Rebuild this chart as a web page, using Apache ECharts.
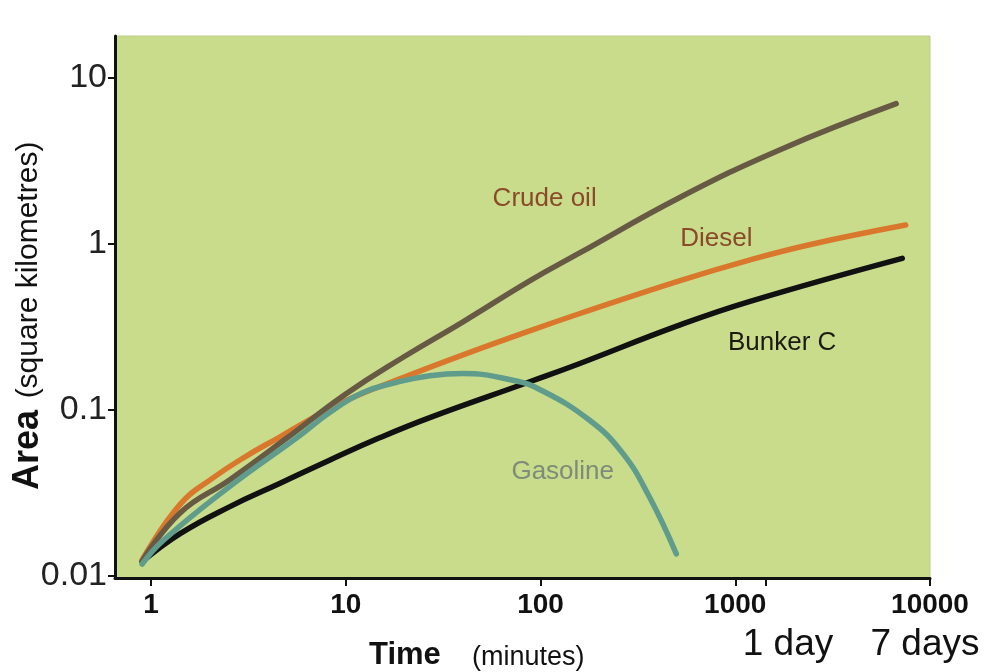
<!DOCTYPE html>
<html>
<head>
<meta charset="utf-8">
<script src="https://cdn.jsdelivr.net/npm/echarts@6/dist/echarts.min.js"></script>
<style>
  html, body { margin: 0; padding: 0; background: #fff; }
  #main { width: 985px; height: 672px; }
</style>
</head>
<body>
<div id="main"></div>
<script>
// time (minutes) / area (km2)
var crudeT = [0.9, 1.41, 2.54, 5, 10, 20, 40, 88, 158, 516, 1700, 6700];
var crudeA = [0.0123, 0.024, 0.038, 0.068, 0.125, 0.21, 0.34, 0.6, 0.88, 1.9, 3.7, 7.0];

var dieselT = [0.9, 1.41, 2.08, 3.1, 4.6, 6.8, 10, 20, 40, 88, 158, 516, 1180, 2500, 7500];
var dieselA = [0.0125, 0.027, 0.039, 0.053, 0.069, 0.09, 0.114, 0.158, 0.215, 0.3, 0.38, 0.6, 0.8, 1.0, 1.3];

var bunkerT = [0.9, 1.41, 2.54, 4.6, 8.3, 14.9, 27, 88, 158, 500, 1180, 7200];
var bunkerA = [0.0122, 0.018, 0.0262, 0.0362, 0.05, 0.068, 0.09, 0.148, 0.19, 0.32, 0.45, 0.82];

var gasT = [0.9, 1.15, 2.54, 5.6, 8.3, 12.2, 18.3, 27, 40, 72, 99, 178, 264, 362, 498];
var gasA = [0.0118, 0.0163, 0.0347, 0.068, 0.097, 0.127, 0.147, 0.161, 0.166, 0.151, 0.133, 0.087, 0.055, 0.030, 0.0136];

var xTicks = [1, 10, 100, 1000, 1440, 10000];
var xLabels = [1, 10, 100, 1000, 10000];
var yTicks = [0.01, 0.1, 1, 10];
var yTickLabels = ['0.01', '0.1', '1', '10'];

// in-plot labels: [text, t, area, colour]
var curveNames = [
  ['Crude oil', 105, 1.87, '#8a4a2a'],
  ['Diesel', 800, 1.07, '#8a4a2a'],
  ['Bunker C', 1742, 0.253, '#1a1a10'],
  ['Gasoline', 130, 0.0427, '#7f8b78']
];

function pairs(t, a) {
  return t.map(function (v, i) { return [v, a[i]]; });
}

var chart = echarts.init(document.getElementById('main'));
var FONT = '"Liberation Sans", Arial, sans-serif';

function line(name, t, a, color) {
  return {
    name: name,
    type: 'line',
    data: pairs(t, a),
    smooth: 0.45,
    symbol: 'none',
    lineStyle: { color: color, width: 5.5, cap: 'round' },
    z: 3
  };
}

var option = {
  animation: false,
  grid: {
    left: 115, right: 55, top: 36, bottom: 94,
    show: true,
    backgroundColor: '#c9dc8b',
    borderColor: '#bccd88',
    borderWidth: 1
  },
  xAxis: {
    type: 'log',
    logBase: 10,
    min: 0.653,
    max: 10000,
    axisLine: { show: true, onZero: false, lineStyle: { color: '#111', width: 3 } },
    axisTick: { show: true, length: 8, customValues: xTicks, lineStyle: { color: '#111', width: 2 } },
    axisLabel: {
      customValues: xLabels,
      margin: 13,
      color: '#111',
      fontFamily: FONT,
      fontWeight: 'bold',
      fontSize: 28,
      formatter: function (v) { return String(v); }
    },
    splitLine: { show: false },
    minorTick: { show: false }
  },
  yAxis: {
    type: 'log',
    logBase: 10,
    min: 0.00973,
    max: 17.9,
    axisLine: { show: true, onZero: false, lineStyle: { color: '#111', width: 3 } },
    axisTick: { show: true, length: 7, customValues: yTicks, lineStyle: { color: '#111', width: 2 } },
    axisLabel: {
      customValues: yTicks,
      margin: 8,
      color: '#222',
      fontFamily: FONT,
      fontSize: 34,
      formatter: function (v) {
        var i = yTicks.indexOf(v);
        return i >= 0 ? yTickLabels[i] : String(v);
      }
    },
    splitLine: { show: false }
  },
  series: [
    line('Bunker C', bunkerT, bunkerA, '#111111'),
    line('Diesel', dieselT, dieselA, '#d9782c'),
    line('Crude oil', crudeT, crudeA, '#675a45'),
    line('Gasoline', gasT, gasA, '#5f9c8c')
  ]
};

chart.setOption(option);

var g = [];
curveNames.forEach(function (c) {
  var p = chart.convertToPixel({ gridIndex: 0 }, [c[1], c[2]]);
  g.push({
    type: 'text', x: p[0], y: p[1], z: 10,
    style: { text: c[0], fill: c[3], font: '26px ' + FONT, align: 'center', verticalAlign: 'middle' }
  });
});
// axis titles
g.push({ type: 'text', x: 369, y: 655, z: 10,
  style: { text: 'Time', fill: '#111', font: 'bold 31px ' + FONT, align: 'left', verticalAlign: 'middle' } });
g.push({ type: 'text', x: 472, y: 658, z: 10,
  style: { text: '(minutes)', fill: '#111', font: '27px ' + FONT, align: 'left', verticalAlign: 'middle' } });
g.push({ type: 'text', x: 788, y: 645, z: 10,
  style: { text: '1 day', fill: '#111', font: '37px ' + FONT, align: 'center', verticalAlign: 'middle' } });
g.push({ type: 'text', x: 925, y: 645, z: 10,
  style: { text: '7 days', fill: '#111', font: '37px ' + FONT, align: 'center', verticalAlign: 'middle' } });
g.push({ type: 'text', x: 28, y: 450, rotation: Math.PI / 2, z: 10,
  style: { text: 'Area', fill: '#111', font: 'bold 36px ' + FONT, align: 'center', verticalAlign: 'middle' } });
g.push({ type: 'text', x: 29, y: 270, rotation: Math.PI / 2, z: 10,
  style: { text: '(square kilometres)', fill: '#111', font: '30px ' + FONT, align: 'center', verticalAlign: 'middle' } });

chart.setOption({ graphic: g });
</script>
</body>
</html>
